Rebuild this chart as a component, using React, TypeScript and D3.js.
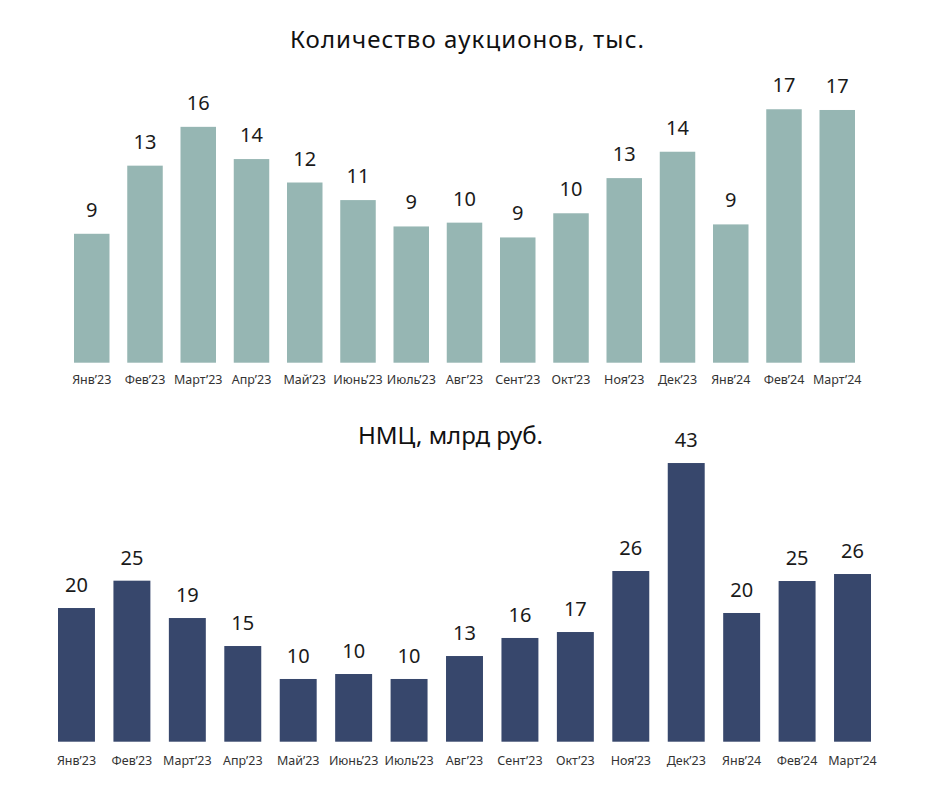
import * as d3 from 'd3'

const months = [
  'Янв’23', 'Фев’23', 'Март’23', 'Апр’23', 'Май’23', 'Июнь’23', 'Июль’23', 'Авг’23',
  'Сент’23', 'Окт’23', 'Ноя’23', 'Дек’23', 'Янв’24', 'Фев’24', 'Март’24',
]

// количество аукционов, тыс.
const auctions = [8.8, 13.45, 16.1, 13.9, 12.3, 11.1, 9.3, 9.56, 8.55, 10.2, 12.6, 14.4, 9.44, 17.3, 17.25]

// НМЦ, млрд руб.
const nmc = [20.44, 24.62, 18.91, 14.63, 9.59, 10.35, 9.59, 13.1, 15.86, 16.77, 26.1, 42.61, 19.68, 24.57, 25.64]

const W = 944
const H = 794
const FONT = '"Noto Sans", "DejaVu Sans", sans-serif'

interface PanelProps {
  title: string
  titleX: number
  titleY: number
  titleWidth: number
  values: number[]
  x0: number
  x1: number
  baseline: number
  pxPerUnit: number
  color: string
  labelGap: number
  tickY: number
}

function Panel({ title, titleX, titleY, titleWidth, values, x0, x1, baseline, pxPerUnit, color, labelGap, tickY }: PanelProps) {
  const x = d3.scaleBand<string>().domain(months).range([x0, x1]).paddingInner(1 / 3).paddingOuter(0)
  const y = d3.scaleLinear().domain([0, 50]).range([baseline, baseline - 50 * pxPerUnit])
  const fmt = (v: number) => String(Math.round(v))

  return (
    <g>
      <text
        x={titleX}
        y={titleY}
        textAnchor="middle"
        fontSize={24}
        fill="#111"
        fontFamily={FONT}
        textLength={titleWidth}
        lengthAdjust="spacing"
      >
        {title}
      </text>
      {values.map((v, i) => (
        <rect
          key={months[i]}
          x={x(months[i])}
          y={y(v)}
          width={x.bandwidth()}
          height={y(0) - y(v)}
          fill={color}
        />
      ))}
      {values.map((v, i) => (
        <text
          key={'l' + months[i]}
          x={(x(months[i]) ?? 0) + x.bandwidth() / 2}
          y={y(v) - labelGap}
          textAnchor="middle"
          fontSize={20}
          fill="#1a1a1a"
          fontFamily={FONT}
        >
          {fmt(v)}
        </text>
      ))}
      {months.map(m => (
        <text
          key={'t' + m}
          x={(x(m) ?? 0) + x.bandwidth() / 2}
          y={tickY}
          textAnchor="middle"
          fontSize={12.5}
          fill="#333"
          fontFamily={FONT}
        >
          {m}
        </text>
      ))}
    </g>
  )
}

export default function App() {
  return (
    <svg
      width={W}
      height={H}
      viewBox={`0 0 ${W} ${H}`}
      style={{ position: 'absolute', left: 0, top: 0, background: '#fff' }}
    >
      <Panel
        title="Количество аукционов, тыс."
        titleX={467}
        titleY={47.5}
        titleWidth={354}
        values={auctions}
        x0={74}
        x1={855}
        baseline={362.7}
        pxPerUnit={14.65}
        color="#96b6b3"
        labelGap={17}
        tickY={384}
      />
      <Panel
        title="НМЦ, млрд руб."
        titleX={450.5}
        titleY={444}
        titleWidth={185}
        values={nmc}
        x0={58}
        x1={871}
        baseline={741.7}
        pxPerUnit={6.54}
        color="#37476c"
        labelGap={16}
        tickY={764.5}
      />
    </svg>
  )
}
